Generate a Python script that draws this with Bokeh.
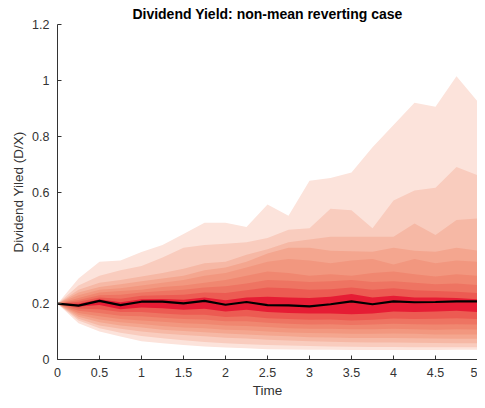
from bokeh.plotting import figure
from bokeh.models import NumeralTickFormatter, FixedTicker, Range1d
from bokeh.embed import file_html
from bokeh.resources import INLINE

time = [0, 0.25, 0.5, 0.75, 1.0, 1.25, 1.5, 1.75, 2.0, 2.25, 2.5,
        2.75, 3.0, 3.25, 3.5, 3.75, 4.0, 4.25, 4.5, 4.75, 5.0]

median = [0.200, 0.193, 0.210, 0.195, 0.207, 0.207, 0.201, 0.210, 0.196, 0.206, 0.195,
          0.194, 0.190, 0.198, 0.208, 0.198, 0.208, 0.205, 0.206, 0.208, 0.208]

# upper boundaries, outermost (1) to innermost (9)
upper_1 = [0.200, 0.290, 0.350, 0.355, 0.385, 0.410, 0.450, 0.490, 0.490, 0.475, 0.555,
           0.515, 0.640, 0.650, 0.670, 0.760, 0.840, 0.920, 0.905, 1.015, 0.925]
upper_2 = [0.200, 0.265, 0.300, 0.320, 0.335, 0.365, 0.400, 0.410, 0.415, 0.420, 0.435,
           0.465, 0.470, 0.540, 0.535, 0.470, 0.570, 0.605, 0.615, 0.690, 0.660]
upper_3 = [0.200, 0.250, 0.275, 0.285, 0.297, 0.310, 0.325, 0.345, 0.350, 0.375, 0.395,
           0.420, 0.430, 0.440, 0.440, 0.440, 0.440, 0.487, 0.446, 0.500, 0.505]
upper_4 = [0.200, 0.240, 0.260, 0.270, 0.280, 0.290, 0.300, 0.320, 0.330, 0.350, 0.380,
           0.400, 0.400, 0.390, 0.388, 0.386, 0.400, 0.390, 0.386, 0.400, 0.390]
upper_5 = [0.200, 0.230, 0.250, 0.255, 0.265, 0.275, 0.285, 0.300, 0.310, 0.330, 0.350,
           0.360, 0.355, 0.345, 0.355, 0.360, 0.340, 0.360, 0.345, 0.355, 0.350]
upper_6 = [0.200, 0.220, 0.240, 0.245, 0.250, 0.260, 0.265, 0.275, 0.285, 0.300, 0.315,
           0.310, 0.300, 0.305, 0.300, 0.310, 0.315, 0.305, 0.297, 0.305, 0.300]
upper_7 = [0.200, 0.213, 0.230, 0.232, 0.240, 0.245, 0.250, 0.258, 0.262, 0.272, 0.285,
           0.282, 0.278, 0.280, 0.285, 0.278, 0.280, 0.275, 0.270, 0.272, 0.267]
upper_8 = [0.200, 0.207, 0.222, 0.218, 0.228, 0.230, 0.232, 0.240, 0.238, 0.248, 0.258,
           0.255, 0.250, 0.252, 0.258, 0.250, 0.255, 0.248, 0.245, 0.243, 0.238]
upper_9 = [0.200, 0.200, 0.216, 0.205, 0.216, 0.217, 0.214, 0.222, 0.212, 0.222, 0.225,
           0.222, 0.220, 0.225, 0.235, 0.222, 0.228, 0.222, 0.222, 0.220, 0.216]

# lower boundaries, outermost (1) to innermost (9)
lower_9 = [0.200, 0.190, 0.195, 0.180, 0.186, 0.184, 0.178, 0.182, 0.172, 0.178, 0.170,
           0.167, 0.165, 0.165, 0.162, 0.165, 0.172, 0.170, 0.172, 0.175, 0.170]
lower_8 = [0.200, 0.183, 0.180, 0.170, 0.170, 0.165, 0.160, 0.160, 0.152, 0.155, 0.148,
           0.145, 0.142, 0.143, 0.140, 0.142, 0.147, 0.145, 0.146, 0.148, 0.145]
lower_7 = [0.200, 0.175, 0.167, 0.157, 0.155, 0.150, 0.145, 0.143, 0.137, 0.137, 0.132,
           0.128, 0.125, 0.126, 0.124, 0.125, 0.128, 0.126, 0.125, 0.126, 0.125]
lower_6 = [0.200, 0.167, 0.155, 0.145, 0.140, 0.135, 0.130, 0.127, 0.122, 0.120, 0.116,
           0.112, 0.110, 0.110, 0.108, 0.108, 0.110, 0.108, 0.107, 0.108, 0.107]
lower_5 = [0.200, 0.160, 0.143, 0.133, 0.127, 0.120, 0.115, 0.112, 0.107, 0.105, 0.100,
           0.097, 0.095, 0.094, 0.092, 0.092, 0.093, 0.092, 0.090, 0.090, 0.090]
lower_4 = [0.200, 0.153, 0.133, 0.122, 0.115, 0.107, 0.102, 0.098, 0.093, 0.090, 0.086,
           0.083, 0.080, 0.079, 0.077, 0.077, 0.077, 0.076, 0.075, 0.074, 0.074]
lower_3 = [0.200, 0.146, 0.122, 0.110, 0.100, 0.093, 0.088, 0.083, 0.078, 0.075, 0.071,
           0.068, 0.065, 0.064, 0.062, 0.061, 0.061, 0.060, 0.059, 0.058, 0.058]
lower_2 = [0.200, 0.140, 0.112, 0.096, 0.084, 0.076, 0.069, 0.063, 0.058, 0.055, 0.052,
           0.050, 0.048, 0.047, 0.046, 0.045, 0.045, 0.044, 0.044, 0.044, 0.044]
lower_1 = [0.200, 0.130, 0.100, 0.082, 0.065, 0.058, 0.052, 0.047, 0.043, 0.040, 0.037,
           0.036, 0.035, 0.035, 0.034, 0.034, 0.034, 0.034, 0.034, 0.035, 0.035]

x_ticks = [0, 0.5, 1, 1.5, 2, 2.5, 3, 3.5, 4, 4.5, 5]
y_ticks = [0, 0.2, 0.4, 0.6, 0.8, 1.0, 1.2]

band_colors = ["#FCE3DB", "#F9CCBE", "#F6B8A5", "#F4A68F", "#F2977F",
               "#F08770", "#EE7462", "#EC5B52", "#E61C34"]

uppers = [upper_1, upper_2, upper_3, upper_4, upper_5, upper_6, upper_7, upper_8, upper_9]
lowers = [lower_1, lower_2, lower_3, lower_4, lower_5, lower_6, lower_7, lower_8, lower_9]

FONT = "Liberation Sans"
TXT = "#333333"

p = figure(width=477, height=400, output_backend="svg", toolbar_location=None,
           x_range=Range1d(0, 5), y_range=Range1d(0, 1.2),
           min_border_left=57, min_border_right=0, min_border_top=24, min_border_bottom=40,
           title="Dividend Yield: non-mean reverting case")

for up, lo, col in zip(uppers, lowers, band_colors):
    p.varea(x=time, y1=lo, y2=up, fill_color=col, fill_alpha=1.0)

p.line(time, median, line_color="black", line_width=2.2)

p.title.text_font = FONT
p.title.text_font_size = "14px"
p.title.text_font_style = "bold"
p.title.text_color = "black"
p.title.align = "center"
p.title.standoff = 5
p.title.offset = 0

p.outline_line_color = None
p.grid.visible = False
p.background_fill_color = "white"

for ax in (p.xaxis[0], p.yaxis[0]):
    ax.axis_line_color = TXT
    ax.major_tick_line_color = TXT
    ax.major_tick_in = 4
    ax.major_tick_out = 0
    ax.minor_tick_line_color = None
    ax.major_label_text_font = FONT
    ax.major_label_text_font_size = "12.5px"
    ax.major_label_text_color = TXT
    ax.axis_label_text_font = FONT
    ax.axis_label_text_font_size = "13.5px"
    ax.axis_label_text_font_style = "normal"
    ax.axis_label_text_color = TXT
    ax.formatter = NumeralTickFormatter(format="0.[0]")

p.xaxis.ticker = FixedTicker(ticks=x_ticks)
p.yaxis.ticker = FixedTicker(ticks=y_ticks)
p.xaxis.axis_label = "Time"
p.yaxis.axis_label = "Dividend Yiled (D/X)"
p.xaxis.major_label_standoff = 8
p.yaxis.major_label_standoff = 8
p.xaxis.axis_label_standoff = 3
p.yaxis.axis_label_standoff = 3

open("out.html", "w").write(file_html(p, INLINE))
